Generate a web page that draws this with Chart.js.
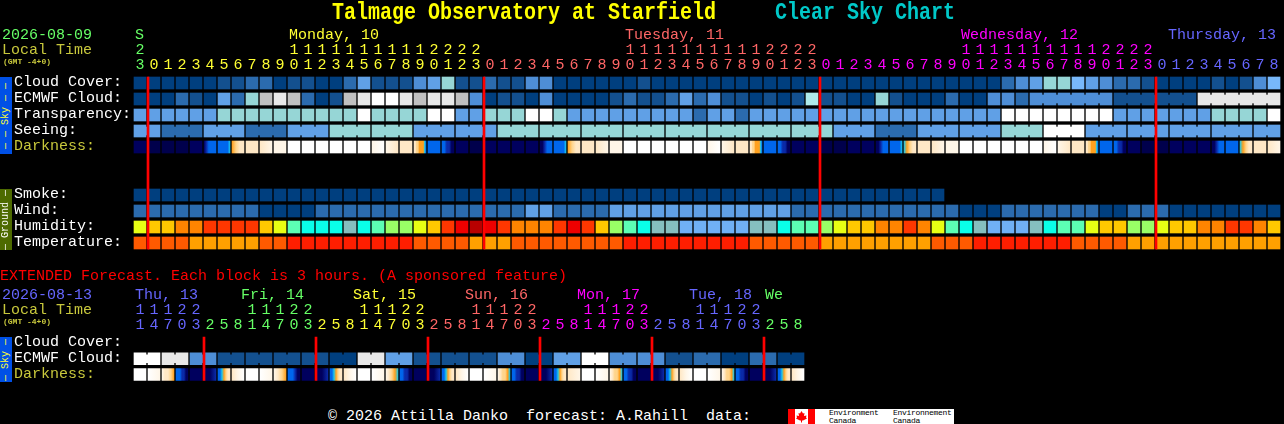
<!DOCTYPE html>
<html>
<head>
<meta charset="utf-8">
<title>Talmage Observatory at Starfield Clear Sky Chart</title>
<script src="https://cdn.jsdelivr.net/npm/chart.js@4"></script>
<style>
  html, body { margin: 0; padding: 0; background: #000; }
  #page { position: relative; width: 1284px; height: 424px; overflow: hidden; background: #000; }
  canvas { position: absolute; left: 0; }
  .t { position: absolute; white-space: pre; font: 15px/15px "Liberation Mono", monospace; color: #fff; z-index: 2; }
  .title { font: bold 20px/20px "Liberation Mono", monospace; transform: scaleY(1.2); transform-origin: center; }
  .small { font: bold 8px/8px "Liberation Mono", monospace; color: #c8c83c; }
  .side { position: absolute; left: 0; width: 12px; z-index: 2; font: 10px/12px "Liberation Mono", monospace; text-align: center; white-space: pre; writing-mode: vertical-rl; transform: rotate(180deg); }
  #logo { position: absolute; left: 788px; top: 409px; width: 166px; height: 15px; background: #fff; z-index: 2; overflow: hidden; }
  #logo span { position: absolute; font: 8px/8px "Liberation Mono", monospace; letter-spacing: -0.3px; color: #000; white-space: pre; top: 0; }
</style>
</head>
<body>
<div id="page">
  <canvas id="mainChart" width="1284" height="260" style="top:0"></canvas>
  <canvas id="extChart" width="1284" height="110" style="top:280px"></canvas>

  <div class="t title" style="left:332px;top:3px;color:#ffff00">Talmage Observatory at Starfield</div>
  <div class="t title" style="left:775px;top:3px;color:#00c8c8">Clear Sky Chart</div>

  <div class="t" style="left:2px;top:28px;color:#66ff66">2026-08-09</div>
  <div class="t" style="left:2px;top:43px;color:#c8c83c">Local Time</div>
  <div class="t small" style="left:3px;top:58px">(GMT -4+0)</div>
  <div class="t" style="left:135px;top:28px;color:#66ff66">S</div>
  <div class="t" style="left:289px;top:28px;color:#ffff33">Monday, 10</div>
  <div class="t" style="left:625px;top:28px;color:#ff6666">Tuesday, 11</div>
  <div class="t" style="left:961px;top:28px;color:#ff00ff">Wednesday, 12</div>
  <div class="t" style="left:1168px;top:28px;color:#6666ff">Thursday, 13</div>

  <div class="side" style="top:77px;height:77px;background:#0050e6;color:#ffff33">— — Sky — —</div>
  <div class="side" style="top:189px;height:61px;background:#4d6a00;color:#fff">— Ground —</div>

  <div class="t" style="left:0;top:269px;color:#ff0000">EXTENDED Forecast. Each block is 3 hours. (A sponsored feature)</div>
  <div class="t" style="left:2px;top:288px;color:#6666ff">2026-08-13</div>
  <div class="t" style="left:2px;top:303px;color:#c8c83c">Local Time</div>
  <div class="t small" style="left:3px;top:318px">(GMT -4+0)</div>
  <div class="t" style="left:135px;top:288px;color:#6666ff">Thu, 13</div>
  <div class="t" style="left:241px;top:288px;color:#66ff66">Fri, 14</div>
  <div class="t" style="left:353px;top:288px;color:#ffff33">Sat, 15</div>
  <div class="t" style="left:465px;top:288px;color:#ff6666">Sun, 16</div>
  <div class="t" style="left:577px;top:288px;color:#ff00ff">Mon, 17</div>
  <div class="t" style="left:689px;top:288px;color:#6666ff">Tue, 18</div>
  <div class="t" style="left:765px;top:288px;color:#66ff66">We</div>
  <div class="side" style="top:337px;height:45px;background:#0050e6;color:#ffff33">— Sky —</div>

  <div class="t" style="left:328px;top:409px">© 2026 Attilla Danko  forecast: A.Rahill  data:</div>
  <div id="logo">
    <svg width="27" height="15" viewBox="0 0 27 15" style="position:absolute;left:0;top:0">
      <rect x="0" y="0" width="7" height="15" fill="#f00"/><rect x="20" y="0" width="7" height="15" fill="#f00"/>
      <polygon fill="#f00" points="13.5,2 15,4.5 16.5,4 16,7 18.5,6.5 18,8.5 19,9.5 15,11.5 14,11.5 14,13.5 13,13.5 13,11.5 12,11.5 8,9.5 9,8.5 8.5,6.5 11,7 10.5,4 12,4.5"/>
    </svg>
    <span style="left:41px">Environment
Canada</span>
    <span style="left:105px">Environnement
Canada</span>
  </div>
</div>

<script>
// shared look up tables
const skyColors = ["#003f7f", "#13508f", "#2b6bae", "#4e8ed6", "#60a0e6", "#78b8fa", "#96d6d6", "#c0c0c0", "#e8e8e8", "#ffffff", "#aeeaea"];
const humidityColors = ["#b80000", "#ee0000", "#ff3700", "#ff8400", "#ffc800", "#e8ff14", "#99ff66", "#5cffb4", "#0affe8", "#85bfbf", "#70b0f5"];
const temperatureColors = ["#ff1e00", "#ff5a00", "#ffa000"];
const darknessColors = ["#00004c", "#00005e", "#0a2aa8", "#0066ec", "#19c8ee", "#ffa01e", "#ffd48a", "#ffe8c6", "#fff6e8", "#ffffff"];

// hourly forecast, first column is 23h on Sunday
const hours = [23,
  0,1,2,3,4,5,6,7,8,9,10,11,12,13,14,15,16,17,18,19,20,21,22,23,
  0,1,2,3,4,5,6,7,8,9,10,11,12,13,14,15,16,17,18,19,20,21,22,23,
  0,1,2,3,4,5,6,7,8,9,10,11,12,13,14,15,16,17,18,19,20,21,22,23,
  0,1,2,3,4,5,6,7,8];
const dayStarts = [0, 1, 25, 49, 73];
const dayColors = ["#66ff66", "#ffff33", "#ff6666", "#ff00ff", "#6666ff"];
const midnights = [1, 25, 49, 73];
const rowNames = ["Cloud Cover:", "ECMWF Cloud:", "Transparency:", "Seeing:", "Darkness:", "", "", "Smoke:", "Wind:", "Humidity:", "Temperature:"];

const cloudCover = [0,0,0,0,0,0,1,1,2,2,0,1,1,0,0,2,4,1,1,1,3,4,6,1,1,2,1,1,3,3,0,0,0,0,0,0,1,0,0,0,0,0,0,0,0,0,0,0,0,0,0,0,0,0,0,0,0,0,0,0,0,0,2,3,4,6,6,5,4,3,2,2,1,0,0,0,0,1,0,1,3,5];
const ecmwfCloud = [0,0,0,2,1,0,4,2,6,7,8,7,2,0,1,7,8,9,9,8,7,8,8,7,3,0,1,1,0,3,0,0,0,0,1,2,1,1,2,4,2,3,1,1,0,1,0,1,10,1,1,0,0,6,1,0,0,0,2,0,0,3,3,2,3,3,3,3,3,3,1,1,1,1,1,1,8,8,8,8,8,8];
const ecmwfRuns = [[64, 69], [70, 75], [76, 81]];
const transparency = [4,4,4,4,4,4,6,6,6,6,6,6,6,6,6,6,9,6,6,6,6,9,9,4,4,6,6,6,9,9,6,4,4,4,4,4,4,4,4,4,2,4,4,2,4,4,4,4,4,4,4,4,4,4,4,4,4,4,4,4,4,4,9,9,9,9,9,9,9,9,4,4,4,4,4,4,4,6,6,6,6,9];
const seeing = [4,4,2,2,2,4,4,4,2,2,2,4,4,4,6,6,6,6,6,6,4,4,4,4,4,4,6,6,6,6,6,6,6,6,6,6,6,6,6,6,6,6,6,6,6,6,6,6,6,6,4,4,4,2,2,2,4,4,4,4,4,4,6,6,6,9,9,9,4,4,4,4,4,4,4,4,4,4,4,4,4,4];
const seeingBlockStarts = [0,2,5,8,11,14,17,20,23,26,29,32,35,38,41,44,47,50,53,56,59,62,65,68,71,74,77,80];
const darkness = ["1","0","0","0","1","123333","333334","5677","77","78","88","9","9","9","9","9","9","89","87","77","7766555543",
  "3","332211","1","0","1","1","1","1","112333","333334","5677","77","78","88","9","9","9","9","9","9","89","87","77","7766555543",
  "3","332211","1","1","0","0","1","1","112333","333334","45677","77","78","88","9","9","9","9","9","9","89","87","77","7766555543",
  "3","332211","1","0","0","1","1","1","112333","333333","45677","77","78"];
const smoke = [0,0,0,0,0,0,0,0,0,0,0,0,0,0,0,0,0,0,0,0,0,0,0,0,0,0,0,0,0,0,0,0,0,0,0,0,0,0,0,0,0,0,0,0,0,0,0,0,0,0,0,0,0,0,0,0,0,0];
const wind = [2,2,2,2,2,2,2,2,2,0,0,0,0,2,2,2,2,2,2,2,2,2,2,2,2,2,2,2,4,4,2,2,2,2,4,4,4,4,4,4,4,4,4,4,4,4,4,2,2,2,2,2,2,2,2,2,2,2,2,0,0,0,2,2,2,2,2,2,2,0,0,2,2,2,0,0,0,0,0,0,0,0];
const humidity = [5,4,4,3,3,2,2,2,2,4,5,7,8,8,8,9,8,7,6,6,5,4,2,1,0,1,2,3,3,3,2,1,2,4,6,7,8,9,9,10,10,10,10,10,9,9,8,7,7,6,5,4,4,3,3,2,3,5,7,8,9,10,10,10,9,8,7,7,5,4,4,6,6,5,4,4,3,3,2,2,3,4];
const temperature = [1,1,1,1,2,2,2,2,2,1,1,0,0,0,0,0,0,0,0,0,1,1,1,1,2,2,2,1,1,1,1,1,1,1,1,0,0,0,0,0,0,0,0,0,1,1,1,1,1,2,2,2,2,2,2,2,2,1,1,1,0,0,0,0,0,0,0,1,1,1,1,2,2,2,2,2,2,2,2,2,2,2];

// extended forecast, one column for 3 hours
const extHours = [11,14,17,20,23,
  2,5,8,11,14,17,20,23,
  2,5,8,11,14,17,20,23,
  2,5,8,11,14,17,20,23,
  2,5,8,11,14,17,20,23,
  2,5,8,11,14,17,20,23,
  2,5,8];
const extDayStarts = [0, 5, 13, 21, 29, 37, 45];
const extDayColors = ["#6666ff", "#66ff66", "#ffff33", "#ff6666", "#ff00ff", "#6666ff", "#66ff66"];
const extMidnights = [5, 13, 21, 29, 37, 45];
const extRowNames = ["Cloud Cover:", "ECMWF Cloud:", "Darkness:"];
const extEcmwf = [9,9,8,8,3,3,1,1,1,1,1,1,1,1,0,0,8,8,4,4,1,1,1,1,1,1,3,3,0,0,4,4,9,9,3,3,3,3,1,1,2,2,0,0,2,2,0,0];
const extRuns = [[0,1],[2,3],[4,5],[6,7],[8,9],[10,11],[12,13],[14,15],[16,17],[18,19],[20,21],[22,23],[24,25],[26,27],[28,29],[30,31],[32,33],[34,35],[36,37],[38,39],[40,41],[42,43],[44,45],[46,47]];
const extDarkness = ["9","98","87765","3332211","1","112","3345677","789","9","98","8765","333211","1","112","3345677","789","9","98","87654","332211","1","112","3345677","789","9","98","876654","332211","1","112","3345677","78","9","98","876654","332211","1","112","3345677","789","9","98","876654","332211","1","112","3345677","789"];

const FONT = "'Liberation Mono', monospace";

function cellBars(row, values, palette) {
  return {
    xAxisID: "x",
    grouped: false,
    barThickness: 12,
    maxBarThickness: 12,
    data: values.map((v, i) => ({ x: i, y: [row - 0.375, row + 0.375] })),
    backgroundColor: values.map(v => palette[v])
  };
}

function darknessBars(row, values) {
  return {
    xAxisID: "x",
    grouped: false,
    barThickness: 12,
    maxBarThickness: 12,
    data: values.map((v, i) => ({ x: i, y: [row - 0.375, row + 0.375] })),
    backgroundColor(c) {
      if (c.dataIndex === undefined) return darknessColors[0];
      const tones = values[c.dataIndex];
      if (tones.length === 1) return darknessColors[+tones];
      const px = c.chart.scales.x.getPixelForValue(c.dataIndex);
      const g = c.chart.ctx.createLinearGradient(px - 6, 0, px + 6, 0);
      for (let k = 0; k < tones.length; k++) g.addColorStop(k / (tones.length - 1), darknessColors[+tones[k]]);
      return g;
    }
  };
}

// thin pieces closing the gap inside a forecast block
function joinBars(row, joins, values, palette) {
  return {
    xAxisID: "xJoin",
    grouped: false,
    barThickness: 2,
    maxBarThickness: 2,
    data: joins.map(i => ({ x: i + 0.5, y: [row - 0.25, row + 0.25] })),
    backgroundColor: joins.map(i => palette[values[i]])
  };
}

function dayLines(marks, lastRow) {
  return {
    xAxisID: "xDay",
    grouped: false,
    barThickness: 2,
    maxBarThickness: 2,
    data: marks.map(m => ({ x: m - 3 / 7, y: [-0.375, lastRow + 0.375] })),
    backgroundColor: "#ff0000"
  };
}

function runJoins(runs) {
  const out = [];
  runs.forEach(r => { for (let i = r[0]; i < r[1]; i++) out.push(i); });
  return out;
}

function buildChart(id, cfg) {
  const xBase = { type: "linear", min: -0.5, max: cfg.hours.length - 0.5, offset: false, display: false, grid: { display: false } };
  const color = c => {
    let d = 0;
    cfg.starts.forEach((s, k) => { if (c.index >= s) d = k; });
    return cfg.colors[d];
  };
  return new Chart(document.getElementById(id), {
    type: "bar",
    data: { datasets: cfg.datasets },
    options: {
      responsive: false,
      animation: false,
      devicePixelRatio: 1,
      layout: { autoPadding: false, padding: { left: 14, right: cfg.right, top: 0, bottom: cfg.bottom } },
      plugins: { legend: { display: false }, tooltip: { enabled: false } },
      scales: {
        x: {
          type: "linear", position: "top", min: -0.5, max: cfg.hours.length - 0.5, offset: false,
          grid: { display: false, drawTicks: false }, border: { display: false },
          afterBuildTicks(s) { s.ticks = cfg.hours.map((h, i) => ({ value: i })); },
          afterFit(s) { s.height = cfg.top; },
          ticks: {
            autoSkip: false, maxRotation: 0, padding: 2, color,
            font: { family: FONT, size: 15, lineHeight: "15px" },
            callback(v, i) {
              const h = cfg.hours[i];
              return h >= 10 ? [String(h)[0], String(h)[1]] : String(h);
            }
          }
        },
        xJoin: xBase,
        xDay: xBase,
        y: {
          type: "linear", reverse: true, min: -0.5, max: cfg.rows.length - 0.5,
          grid: { display: false, drawTicks: false }, border: { display: false },
          // row names sit one pixel above the cell centres
          afterBuildTicks(s) { s.ticks = cfg.rows.map((n, i) => ({ value: i - 0.0625 })); },
          afterFit(s) { s.width = 119; },
          ticks: {
            autoSkip: false, crossAlign: "far", padding: 0,
            color: c => (cfg.rows[c.index] === "Darkness:" ? "#c8c83c" : "#ffffff"),
            font: { family: FONT, size: 15, lineHeight: "15px" },
            callback(v, i) { return cfg.rows[i]; }
          }
        }
      }
    }
  });
}

const seeingJoins = [];
for (let i = 0; i < seeing.length - 1; i++) if (!seeingBlockStarts.includes(i + 1)) seeingJoins.push(i);

buildChart("mainChart", {
  hours, starts: dayStarts, colors: dayColors, rows: rowNames, top: 75, right: 3, bottom: 9,
  datasets: [
    dayLines(midnights, 10),
    cellBars(0, cloudCover, skyColors),
    cellBars(1, ecmwfCloud, skyColors),
    joinBars(1, runJoins(ecmwfRuns), ecmwfCloud, skyColors),
    cellBars(2, transparency, skyColors),
    cellBars(3, seeing, skyColors),
    joinBars(3, seeingJoins, seeing, skyColors),
    darknessBars(4, darkness),
    cellBars(7, smoke, skyColors),
    cellBars(8, wind, skyColors),
    cellBars(9, humidity, humidityColors),
    cellBars(10, temperature, temperatureColors)
  ]
});

buildChart("extChart", {
  hours: extHours, starts: extDayStarts, colors: extDayColors, rows: extRowNames, top: 55, right: 479, bottom: 7,
  datasets: [
    dayLines(extMidnights, 2),
    cellBars(1, extEcmwf, skyColors),
    joinBars(1, runJoins(extRuns), extEcmwf, skyColors),
    darknessBars(2, extDarkness)
  ]
});
</script>
</body>
</html>
